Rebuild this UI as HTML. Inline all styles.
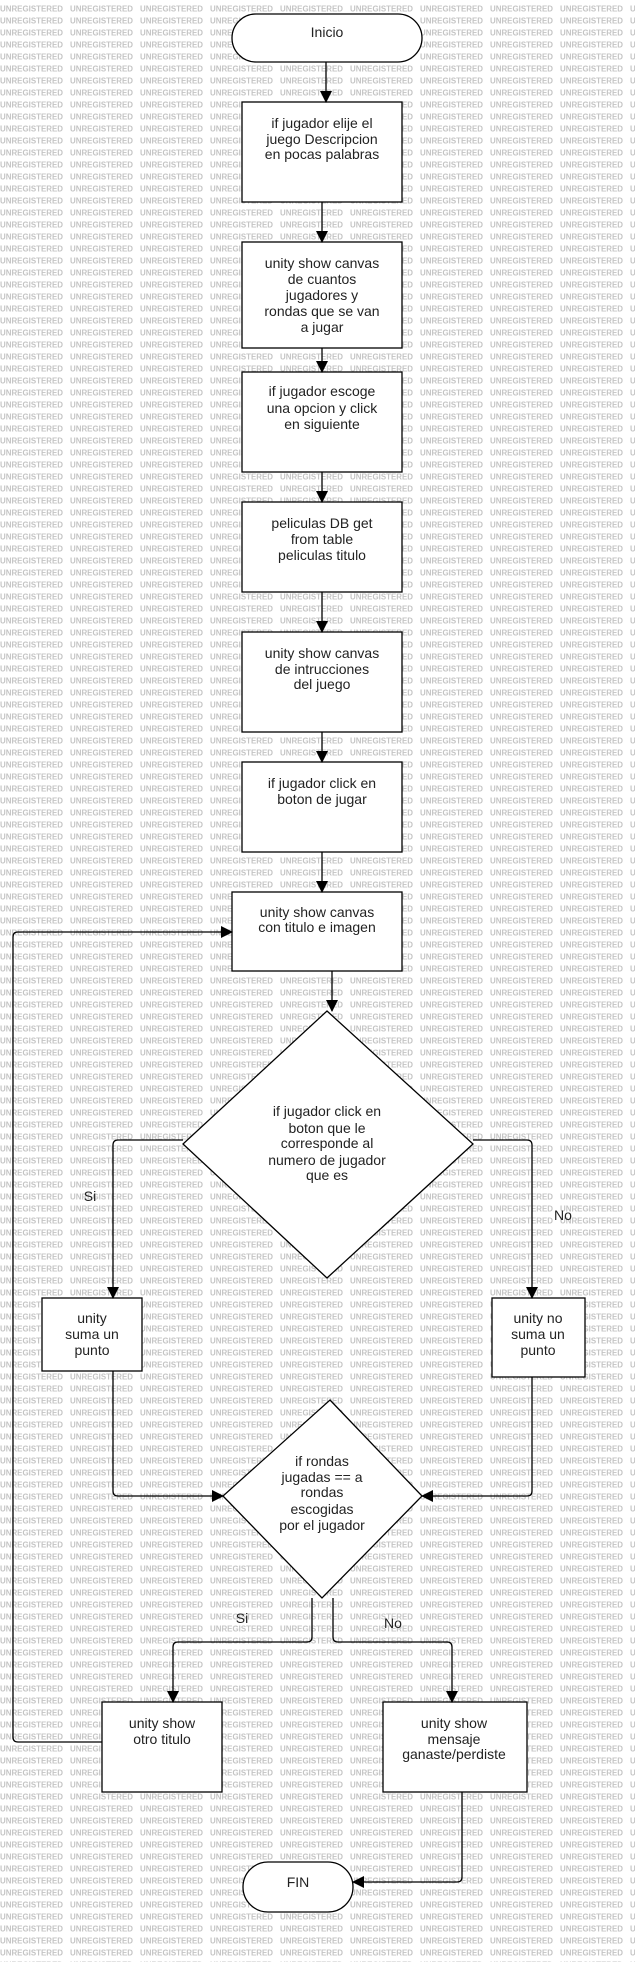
<!DOCTYPE html>
<html><head><meta charset="utf-8"><style>
html,body{margin:0;padding:0;background:#fff;}
svg{display:block;}
text{font-family:"Liberation Sans",sans-serif;}
.t{font-size:14px;fill:#222;text-anchor:middle;}
.w{font-size:8px;fill:#c4c4c4;font-weight:bold;}
</style></head><body>
<svg width="635" height="1962" viewBox="0 0 635 1962" xmlns="http://www.w3.org/2000/svg">
<defs>
<pattern id="wm" x="0" y="0" width="70" height="12" patternUnits="userSpaceOnUse">
<text class="w" x="0" y="11.5" textLength="63" lengthAdjust="spacingAndGlyphs">UNREGISTERED</text>
</pattern>
<marker id="a" markerWidth="12" markerHeight="12" refX="11" refY="6" orient="auto" markerUnits="userSpaceOnUse">
<path d="M0,0 L12,6 L0,12 Z" fill="#000"/>
</marker>
</defs>
<rect x="0" y="0" width="635" height="1962" fill="url(#wm)"/>
<g fill="#fff" stroke="#000" stroke-width="1.3">
<rect x="232" y="14" width="190" height="48" rx="24"/>
<rect x="242" y="102" width="160" height="100"/>
<rect x="242" y="242" width="160" height="106"/>
<rect x="242" y="372" width="160" height="100"/>
<rect x="242" y="502" width="160" height="90"/>
<rect x="242" y="632" width="160" height="100"/>
<rect x="242" y="762" width="160" height="90"/>
<rect x="232" y="892" width="170" height="79"/>
<polygon points="327,1011 473,1144 327,1278 183,1144"/>
<rect x="42" y="1298" width="100" height="73"/>
<rect x="492" y="1298" width="93" height="79"/>
<polygon points="330,1400 422,1496 322,1598 223,1496"/>
<rect x="102" y="1702" width="120" height="90"/>
<rect x="383" y="1702" width="144" height="90"/>
<rect x="243" y="1862" width="110" height="50" rx="25"/>
</g>
<g fill="none" stroke="#000" stroke-width="1.3">
<path d="M326,62 V102" marker-end="url(#a)"/>
<path d="M322,202 V242" marker-end="url(#a)"/>
<path d="M322,348 V372" marker-end="url(#a)"/>
<path d="M322,472 V502" marker-end="url(#a)"/>
<path d="M322,592 V632" marker-end="url(#a)"/>
<path d="M322,732 V762" marker-end="url(#a)"/>
<path d="M322,852 V892" marker-end="url(#a)"/>
<path d="M332,971 V1011" marker-end="url(#a)"/>
<path d="M183,1140 H118 Q113,1140 113,1145 V1298" marker-end="url(#a)"/>
<path d="M473,1140 H527 Q532,1140 532,1145 V1298" marker-end="url(#a)"/>
<path d="M113,1371 V1491 Q113,1496 118,1496 H223" marker-end="url(#a)"/>
<path d="M532,1377 V1491 Q532,1496 527,1496 H422" marker-end="url(#a)"/>
<path d="M312,1598 V1637 Q312,1642 307,1642 H178 Q173,1642 173,1647 V1702" marker-end="url(#a)"/>
<path d="M333,1598 V1637 Q333,1642 338,1642 H447 Q452,1642 452,1647 V1702" marker-end="url(#a)"/>
<path d="M102,1742 H18 Q13,1742 13,1737 V937 Q13,932 18,932 H232" marker-end="url(#a)"/>
<path d="M462,1792 V1877 Q462,1882 457,1882 H353" marker-end="url(#a)"/>
</g>
<g class="t">
<text x="327" y="37">Inicio</text>
<text x="322" y="128">if jugador elije el</text>
<text x="322" y="144">juego Descripcion</text>
<text x="322" y="159">en pocas palabras</text>
<text x="322" y="268">unity show canvas</text>
<text x="322" y="284">de cuantos</text>
<text x="322" y="300">jugadores y</text>
<text x="322" y="316">rondas que se van</text>
<text x="322" y="332">a jugar</text>
<text x="322" y="396">if jugador escoge</text>
<text x="322" y="413">una opcion y click</text>
<text x="322" y="429">en siguiente</text>
<text x="322" y="528">peliculas DB get</text>
<text x="322" y="544">from table</text>
<text x="322" y="560">peliculas titulo</text>
<text x="322" y="658">unity show canvas</text>
<text x="322" y="674">de intrucciones</text>
<text x="322" y="689">del juego</text>
<text x="322" y="788">if jugador click en</text>
<text x="322" y="804">boton de jugar</text>
<text x="317" y="917">unity show canvas</text>
<text x="317" y="932">con titulo e imagen</text>
<text x="327" y="1116">if jugador click en</text>
<text x="327" y="1133">boton que le</text>
<text x="327" y="1148">corresponde al</text>
<text x="327" y="1165">numero de jugador</text>
<text x="327" y="1180">que es</text>
<text x="90" y="1201">Si</text>
<text x="563" y="1220">No</text>
<text x="92" y="1323">unity</text>
<text x="92" y="1339">suma un</text>
<text x="92" y="1355">punto</text>
<text x="538" y="1323">unity no</text>
<text x="538" y="1339">suma un</text>
<text x="538" y="1355">punto</text>
<text x="322" y="1466">if rondas</text>
<text x="322" y="1482">jugadas == a</text>
<text x="322" y="1497">rondas</text>
<text x="322" y="1514">escogidas</text>
<text x="322" y="1530">por el jugador</text>
<text x="242" y="1623">Si</text>
<text x="393" y="1628">No</text>
<text x="162" y="1728">unity show</text>
<text x="162" y="1744">otro titulo</text>
<text x="454" y="1728">unity show</text>
<text x="454" y="1744">mensaje</text>
<text x="454" y="1759">ganaste/perdiste</text>
<text x="298" y="1887">FIN</text>
</g>
</svg>
</body></html>
